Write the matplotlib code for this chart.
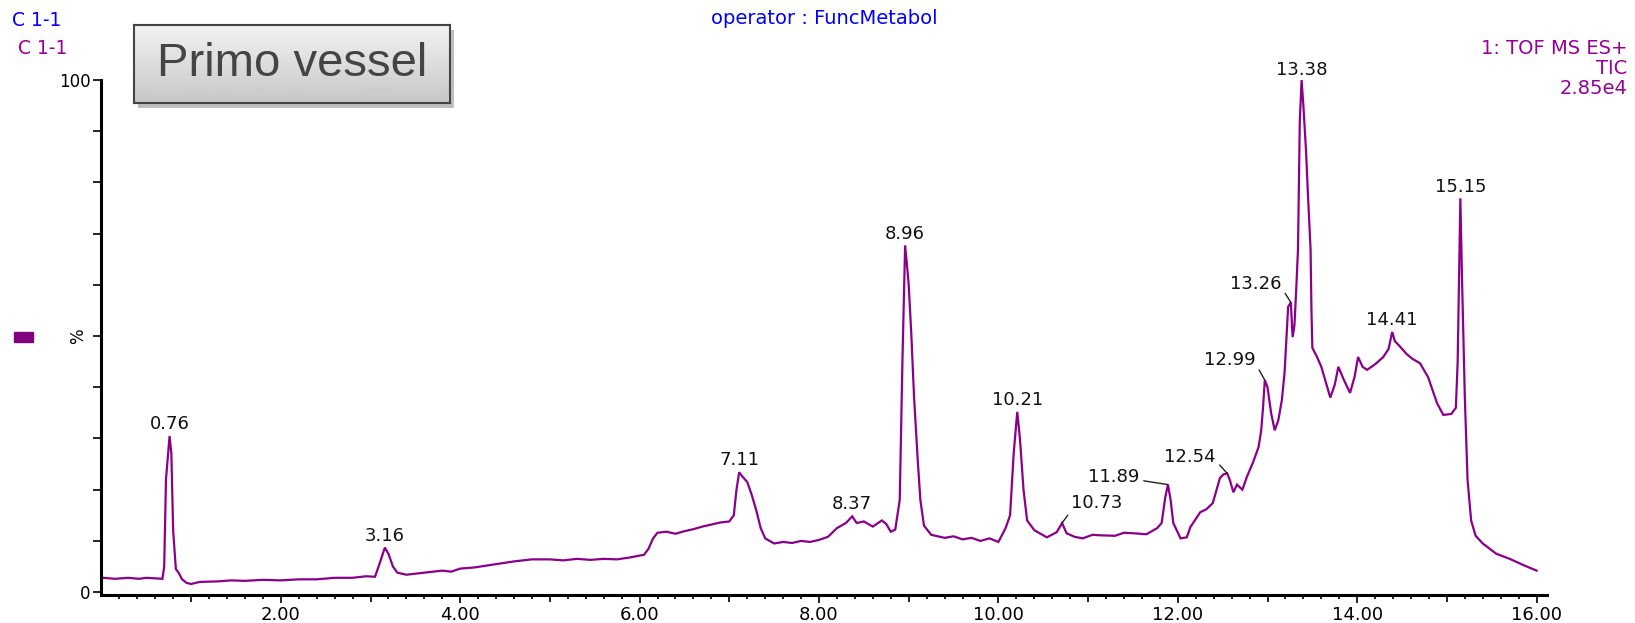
import numpy as np
import matplotlib
matplotlib.use("Agg")
import matplotlib.pyplot as plt
from matplotlib.patches import Rectangle
from matplotlib.ticker import FixedLocator, FixedFormatter

# ---- TIC trace (retention time, min / relative intensity, %) ----
rt = [0.02, 0.15, 0.30, 0.42, 0.50, 0.60, 0.68, 0.70, 0.72, 0.76, 0.78, 0.80, 0.83, 0.86,
      0.90, 0.95, 1.00, 1.10, 1.30, 1.45, 1.60, 1.80, 2.00, 2.20, 2.40, 2.60, 2.80, 2.95,
      3.05, 3.10, 3.16, 3.20, 3.25, 3.30, 3.40, 3.60, 3.80, 3.90, 4.00, 4.15, 4.30, 4.45,
      4.60, 4.80, 5.00, 5.15, 5.30, 5.45, 5.60, 5.75, 5.90, 6.05, 6.10, 6.15, 6.20, 6.30,
      6.40, 6.50, 6.60, 6.70, 6.80, 6.90, 7.00, 7.05, 7.08, 7.11, 7.15, 7.20, 7.25, 7.30,
      7.35, 7.40, 7.50, 7.60, 7.70, 7.80, 7.90, 8.00, 8.10, 8.20, 8.30, 8.37, 8.42, 8.50,
      8.60, 8.70, 8.75, 8.80, 8.85, 8.90, 8.93, 8.96, 8.98, 9.00, 9.03, 9.06, 9.10, 9.13,
      9.17, 9.25, 9.40, 9.50, 9.60, 9.70, 9.80, 9.90, 10.00, 10.08, 10.13, 10.17, 10.21,
      10.24, 10.28, 10.32, 10.40, 10.54, 10.65, 10.71, 10.76, 10.85, 10.94, 11.05, 11.13,
      11.30, 11.40, 11.50, 11.65, 11.77, 11.82, 11.86, 11.89, 11.92, 11.95, 12.03, 12.10,
      12.14, 12.25, 12.32, 12.39, 12.47, 12.51, 12.55, 12.58, 12.62, 12.66, 12.72, 12.77,
      12.84, 12.90, 12.93, 12.95, 12.97, 13.00, 13.04, 13.08, 13.12, 13.16, 13.19, 13.23,
      13.26, 13.28, 13.30, 13.32, 13.34, 13.36, 13.38, 13.40, 13.43, 13.45, 13.48, 13.49,
      13.50, 13.55, 13.60, 13.65, 13.70, 13.75, 13.79, 13.85, 13.92, 13.97, 14.01, 14.06,
      14.11, 14.20, 14.29, 14.35, 14.39, 14.42, 14.48, 14.55, 14.62, 14.70, 14.79, 14.89,
      14.96, 15.05, 15.10, 15.12, 15.15, 15.17, 15.20, 15.23, 15.27, 15.32, 15.40, 15.55,
      15.70, 15.85, 16.00]
pct = [2.8, 2.6, 2.8, 2.6, 2.8, 2.7, 2.6, 5.0, 22.0, 30.5, 27.0, 12.0, 4.5, 3.8,
       2.5, 1.8, 1.6, 2.0, 2.1, 2.3, 2.2, 2.4, 2.3, 2.5, 2.5, 2.8, 2.8, 3.1,
       3.0, 5.5, 8.7, 7.5, 5.0, 3.8, 3.4, 3.8, 4.2, 4.0, 4.6, 4.8, 5.2, 5.6,
       6.0, 6.4, 6.4, 6.2, 6.5, 6.3, 6.5, 6.4, 6.8, 7.3, 8.5, 10.5, 11.6, 11.8,
       11.4, 11.9, 12.3, 12.8, 13.2, 13.6, 13.8, 15.0, 20.0, 23.4, 22.5, 21.5, 19.0, 16.0,
       12.5, 10.5, 9.5, 9.8, 9.6, 10.0, 9.8, 10.2, 10.8, 12.5, 13.5, 14.8, 13.5, 13.8,
       12.8, 14.0, 13.3, 11.8, 12.2, 18.0, 45.0, 67.7, 64.0, 60.0, 50.0, 38.0, 26.0, 18.0,
       13.0, 11.2, 10.6, 10.9, 10.3, 10.6, 10.0, 10.5, 9.8, 12.5, 15.0, 27.0, 35.2,
       30.0, 20.0, 14.0, 12.1, 10.7, 11.7, 13.5, 11.5, 10.8, 10.5, 11.2, 11.1,
       11.0, 11.6, 11.5, 11.3, 12.5, 13.5, 18.5, 21.0, 18.0, 13.5, 10.5, 10.7,
       12.7, 15.6, 16.2, 17.4, 22.3, 23.0, 23.2, 21.9, 19.5, 21.0, 20.0, 22.5,
       25.4, 28.3, 31.6, 36.0, 41.4, 40.0, 35.0, 31.6, 33.5, 37.5, 42.8, 55.7,
       56.6, 49.8, 52.0, 59.0, 67.0, 92.0, 100.0, 95.0, 86.0, 78.0, 67.0, 55.0,
       47.7, 46.0, 44.0, 41.0, 38.0, 40.5, 44.0, 41.5, 38.9, 42.0, 45.9, 44.0,
       43.4, 44.5, 45.9, 47.5, 50.8, 49.0, 47.9, 46.5, 45.5, 44.7, 42.0, 36.9,
       34.6, 34.8, 36.0, 45.0, 76.9, 60.0, 38.0, 22.0, 14.0, 11.0, 9.5, 7.5,
       6.5, 5.3, 4.2]

# labelled peaks and where their label sits (offset from peak, pixels)
peak_labels = ["0.76", "3.16", "7.11", "8.37", "8.96", "10.21", "10.73", "11.89",
               "12.54", "12.99", "13.26", "13.38", "14.41", "15.15"]
label_dx = [0, 0, 0, 0, 0, 0, 35, -54, -37, -35, -35, 0, 0, 0]
label_dy = [12, 12, 12, 12, 11, 12, 20, 8, 16, 20, 18, 10, 12, 11]

xticks_major = [2, 4, 6, 8, 10, 12, 14, 16]
xtick_labels = ["2.00", "4.00", "6.00", "8.00", "10.00", "12.00", "14.00", "16.00"]

TRACE = "#8b008b"
PURPLE_TXT = "#990099"
BLUE_TXT = "#0000ff"
W, H = 1635, 623

fig = plt.figure(figsize=(W / 100, H / 100), dpi=100)
plt.rcParams["font.family"] = ["DejaVu Sans"]

# axes: x 0..16.12 min at px 101..1547, y -0.5..100 at px 595..80
ax = fig.add_axes([101.4 / W, (H - 594.7) / H, 16.12 * 89.7 / W, (594.7 - 80) / H])
ax.plot(rt, pct, color=TRACE, lw=1.6, solid_joinstyle="miter")
ax.set_xlim(0, 16.12)
ax.set_ylim(-0.5, 100)

for s in ("top", "right"):
    ax.spines[s].set_visible(False)
for s in ("left", "bottom"):
    ax.spines[s].set_linewidth(2.2)
ax.spines["left"].set_bounds(-0.5, 100)

# y ticks every 10 %, labels only at ends
ax.yaxis.set_major_locator(FixedLocator(np.arange(0, 101, 10)))
ax.yaxis.set_major_formatter(FixedFormatter(["0"] + [""] * 9 + ["100"]))
ax.tick_params(axis="y", length=6, width=1.2, labelsize=12, pad=2)
ax.annotate("%", xy=(0, 50), xycoords=("axes fraction", "data"), xytext=(-17, 0),
            textcoords="offset points", rotation=90, ha="center", va="center", fontsize=12)

# x ticks: labelled even minutes, minor every 0.2 min, odd minutes a bit longer
ax.xaxis.set_major_locator(FixedLocator(xticks_major))
ax.xaxis.set_major_formatter(FixedFormatter(xtick_labels))
minor = [round(v, 1) for v in np.arange(0.2, 16.01, 0.2) if abs(v / 2 - round(v / 2)) > 1e-6]
ax.xaxis.set_minor_locator(FixedLocator(minor))
ax.tick_params(axis="x", which="major", length=6, width=1.2, labelsize=13, pad=2)
ax.tick_params(axis="x", which="minor", length=3, width=1.2)
for t, v in zip(ax.xaxis.get_minor_ticks(), minor):
    if abs(v - round(v)) < 1e-6:
        t.tick1line.set_markersize(5)

# peak labels
rt_a = np.asarray(rt)
pct_a = np.asarray(pct)
for lab, dx, dy in zip(peak_labels, label_dx, label_dy):
    t0 = float(lab)
    near = np.abs(rt_a - t0) <= 0.035
    ypk = pct_a[near].max()
    xpk = rt_a[near][np.argmax(pct_a[near])]
    kw = dict(textcoords="offset points", ha="center", va="center", fontsize=13,
              color="#111111")
    if dx == 0:
        ax.annotate(lab, xy=(xpk, ypk), xytext=(0, dy * 0.72), **kw)
    else:
        rel = (0.0, 0.1) if dx > 0 else (1.0, 0.3)
        ax.annotate(lab, xy=(xpk, ypk), xytext=(dx * 0.72, dy * 0.72),
                    arrowprops=dict(arrowstyle="-", color="#222222", lw=1.0,
                                    shrinkA=1, shrinkB=0, relpos=rel), **kw)

# header texts
fig.text(12 / W, 1 - 21 / H, "C 1-1", color=BLUE_TXT, fontsize=13.5, va="center")
fig.text(18 / W, 1 - 48 / H, "C 1-1", color=PURPLE_TXT, fontsize=13.5, va="center")
fig.text(824 / W, 1 - 19 / H, "operator : FuncMetabol", color=BLUE_TXT, fontsize=14,
         ha="center", va="center")
fig.text(1627 / W, 1 - 48 / H, "1: TOF MS ES+", color=PURPLE_TXT, fontsize=14,
         ha="right", va="center")
fig.text(1627 / W, 1 - 68 / H, "TIC", color=PURPLE_TXT, fontsize=14, ha="right", va="center")
fig.text(1627 / W, 1 - 88 / H, "2.85e4", color=PURPLE_TXT, fontsize=14, ha="right", va="center")

# legend swatch
fig.patches.append(Rectangle((14 / W, 1 - 342 / H), 19 / W, 10 / H, transform=fig.transFigure,
                             color="#800080", zorder=3))

# "Primo vessel" box with gradient + shadow
bx0, by0, bx1, by1 = 134, 25, 450, 103
fig.patches.append(Rectangle(((bx0 + 4) / W, 1 - (by1 + 5) / H), (bx1 - bx0) / W, (by1 - by0) / H,
                             transform=fig.transFigure, color="#000000", alpha=0.25, zorder=4,
                             lw=0))
bax = fig.add_axes([bx0 / W, 1 - by1 / H, (bx1 - bx0) / W, (by1 - by0) / H], zorder=5)
grad = np.linspace(0.95, 0.78, 64).reshape(-1, 1)
bax.imshow(np.repeat(grad, 2, axis=1), cmap="gray", vmin=0, vmax=1, aspect="auto",
           extent=(0, 1, 0, 1))
bax.set_xlim(0, 1)
bax.set_ylim(0, 1)
bax.set_xticks([])
bax.set_yticks([])
for s in bax.spines.values():
    s.set_color("#444444")
    s.set_linewidth(1.5)
bax.text(0.5, 0.5, "Primo vessel", ha="center", va="center", fontsize=34,
         color="#444444", family=["Liberation Sans", "DejaVu Sans"])

fig.savefig("out.png", dpi=100)
